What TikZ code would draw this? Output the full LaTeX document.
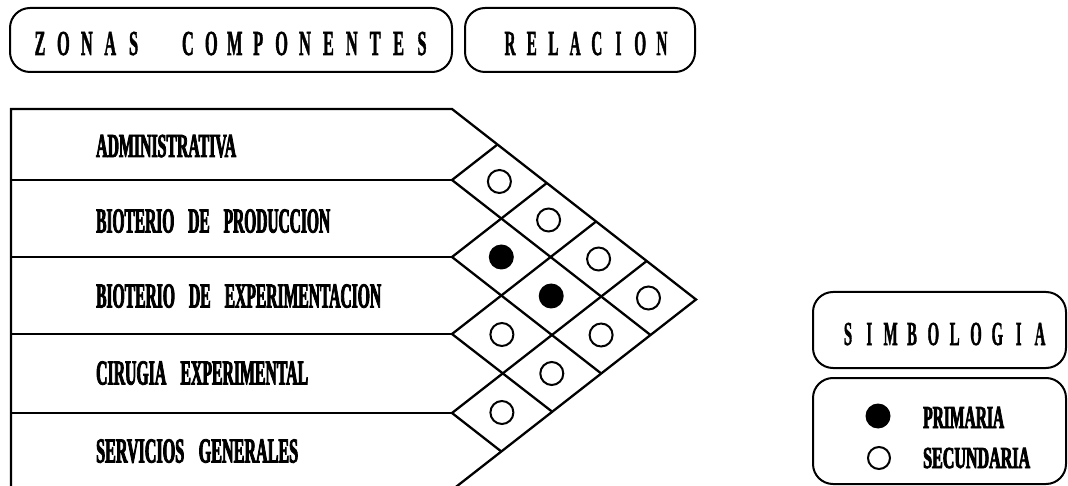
\documentclass[tikz,border=0pt]{standalone}
\usepackage{fontspec}
\newfontfamily\cond{Liberation Serif Bold}[FakeStretch=0.7,FakeBold=1.5]
\newfontfamily\condl{Liberation Serif Bold}[FakeStretch=0.5,FakeBold=2.5]
\makeatletter
\newcommand\spreadtxt[2]{\@tfor\sp@c:=#2\do{\makebox[#1][c]{\sp@c}}}
\makeatother
\newcommand\capbox[1]{\rule{0pt}{0.655em}\smash{#1}}
\newcommand\fitlbl[3]{\resizebox{#1}{#2}{\condl\capbox{#3}}}
\newcommand\fitttl[3]{\resizebox{#1}{#2}{\cond\capbox{#3}}}
\newcommand\wsp{\hspace{0.45em}}
\begin{document}
\begin{tikzpicture}[x=1pt,y=-1pt, line width=2.3pt, line join=miter,
  rbox/.style={draw, rounded corners=20pt, line width=2pt, inner sep=0pt},
  ttl/.style={inner sep=0pt, anchor=base},
  lbl/.style={inner sep=0pt, anchor=base west},
  opn/.style={circle, draw, line width=2pt, minimum size=23pt, inner sep=0pt},
  fil/.style={circle, fill=black, minimum size=25pt, inner sep=0pt}]
\useasboundingbox (0,0) rectangle (1068,486);
\clip (0,0) rectangle (1068,486);
\fill[white] (0,0) rectangle (1068,486);

% header boxes
\node[rbox, minimum width=442pt, minimum height=64pt] (zonas) at (231,40) {};
\node[rbox, minimum width=230pt, minimum height=64pt] (relacion) at (580,40) {};
\node[ttl] (zonastxt) at (231,55) {\fitttl{405.4pt}{23pt}{\spreadtxt{1em}{ZONAS}\hspace{1.32em}\spreadtxt{1em}{COMPONENTES}}};
\node[ttl] (reltxt) at (586,55) {\fitttl{173.6pt}{23pt}{\spreadtxt{1em}{RELACION}}};

% legend boxes
\node[rbox, minimum width=253pt, minimum height=76pt] (simb) at (939.5,330) {};
\node[rbox, minimum width=253pt, minimum height=106pt] (leg) at (939.5,431) {};
\node[ttl] (simbtxt) at (944,345) {\fitttl{213.3pt}{22pt}{\spreadtxt{1em}{SIMBOLOGIA}}};
\node[fil] (pdot) at (878,416) {};
\node[opn, minimum size=22pt] (sdot) at (879,458) {};
\node[lbl] (ptxt) at (922,428) {\fitlbl{81pt}{21pt}{PRIMARIA}};
\node[lbl] (stxt) at (922,468) {\fitlbl{107pt}{20pt}{SECUNDARIA}};

% chart geometry
\coordinate (A0) at (11,109);  \coordinate (L0) at (452,109);
\coordinate (A1) at (11,180);  \coordinate (L1) at (452,180);
\coordinate (A2) at (11,257);  \coordinate (L2) at (452,257);
\coordinate (A3) at (11,334);  \coordinate (L3) at (452,334);
\coordinate (A4) at (11,413);  \coordinate (L4) at (452,413);
\coordinate (A5) at (11,490);  \coordinate (L5) at (452,490);
\coordinate (T1) at (497.5,144.5);
\coordinate (T2) at (546.8,183);
\coordinate (T3) at (596.1,221.5);
\coordinate (T4) at (646.7,261);
\coordinate (B1) at (650.5,335);
\coordinate (B2) at (601.2,373.5);
\coordinate (B3) at (551.9,411.5);
\coordinate (B4) at (501.3,451.5);
\coordinate (tip) at (696,299.5);

\draw (A0) -- (L0) -- (tip) -- (L5) -- (A5) -- cycle;
\foreach \k in {1,2,3,4}{
  \draw (A\k) -- (L\k);
  \draw (T\k) -- (L\k) -- (B\k);
}

% row labels (baseline placed)
\node[lbl] (r1) at (95,157) {\fitlbl{140pt}{22pt}{ADMINISTRATIVA}};
\node[lbl] (r2) at (95,232.5) {\fitlbl{234pt}{23pt}{BIOTERIO\wsp DE\wsp PRODUCCION}};
\node[lbl] (r3) at (95,307.5) {\fitlbl{285pt}{23pt}{BIOTERIO\wsp DE\wsp EXPERIMENTACION}};
\node[lbl] (r4) at (95,384.5) {\fitlbl{212pt}{23pt}{CIRUGIA\wsp EXPERIMENTAL}};
\node[lbl] (r5) at (95,462.5) {\fitlbl{202pt}{23pt}{SERVICIOS\wsp GENERALES}};

% relation marks
\node[opn] (c12) at (499.4,181.5) {};
\node[opn] (c13) at (548.6,220) {};
\node[opn] (c14) at (598.6,259) {};
\node[opn] (c15) at (648.5,298) {};
\node[fil] (c23) at (501.3,257) {};
\node[fil] (c24) at (551.2,296) {};
\node[opn] (c25) at (601.1,335) {};
\node[opn] (c34) at (501.9,334.5) {};
\node[opn] (c35) at (551.8,373.5) {};
\node[opn] (c45) at (501.9,412.5) {};
\end{tikzpicture}
\end{document}
